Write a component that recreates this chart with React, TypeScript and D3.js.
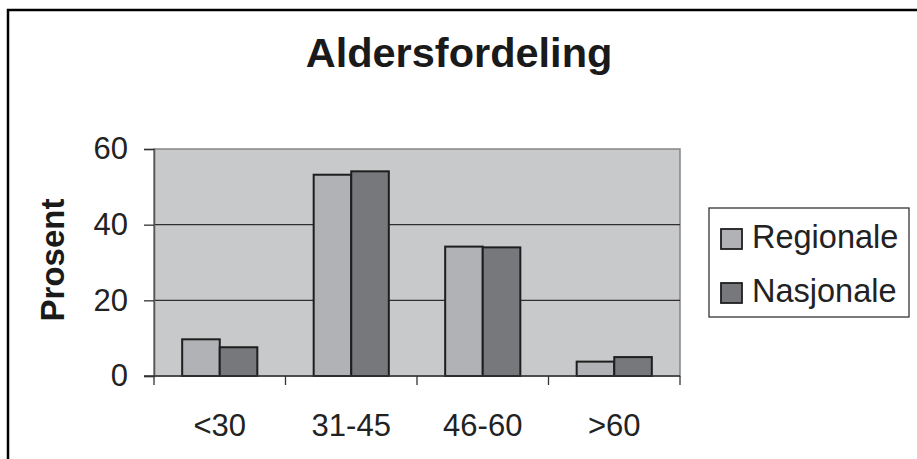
import * as d3 from "d3";
import { useEffect, useRef } from "react";

const categories = ["<30", "31-45", "46-60", ">60"];
const series = ["Regionale", "Nasjonale"];
const regionale = [9.7, 53.2, 34.2, 3.8];
const nasjonale = [7.6, 54.1, 34, 5];
const yTicks = [0, 20, 40, 60];

const colors = ["#b1b2b5", "#77787c"];
const font = "'Liberation Sans', Arial, sans-serif";

const App = () => {
  const svgRef = useRef(null);

  const width = 917;
  const height = 459;

  useEffect(() => {
    const svg = d3.select(svgRef.current);
    svg.selectAll("*").remove();

    const plot = { left: 154, right: 680, top: 149, bottom: 376 };

    // outer frame (left + top only visible)
    svg
      .append("path")
      .attr("d", `M8,${height} L8,10 L${width},10`)
      .attr("fill", "none")
      .attr("stroke", "#000")
      .attr("stroke-width", 2.5);

    svg
      .append("text")
      .attr("x", 459)
      .attr("y", 67)
      .attr("text-anchor", "middle")
      .attr("font-family", font)
      .attr("font-weight", "bold")
      .attr("font-size", 41.5)
      .attr("fill", "#1a1a1a")
      .text("Aldersfordeling");

    const x0 = d3
      .scaleBand()
      .domain(categories)
      .range([plot.left, plot.right])
      .paddingInner(0)
      .paddingOuter(0);

    const barW = x0.bandwidth() / 3.5;
    const x1 = d3
      .scaleBand()
      .domain(series)
      .range([0, barW * 2]);

    const y = d3.scaleLinear().domain([0, 60]).range([plot.bottom, plot.top]);

    // plot background
    svg
      .append("rect")
      .attr("x", plot.left)
      .attr("y", plot.top)
      .attr("width", plot.right - plot.left)
      .attr("height", plot.bottom - plot.top)
      .attr("fill", "#c8c9cb")
      .attr("stroke", "#858585")
      .attr("stroke-width", 1.5);

    // gridlines
    svg
      .append("g")
      .selectAll("line")
      .data(yTicks.filter((t) => t > 0 && t < 60))
      .join("line")
      .attr("x1", plot.left)
      .attr("x2", plot.right)
      .attr("y1", (d) => y(d))
      .attr("y2", (d) => y(d))
      .attr("stroke", "#2e2e2e")
      .attr("stroke-width", 1.3);

    // bars
    const data = [regionale, nasjonale];
    const groups = svg
      .append("g")
      .selectAll("g")
      .data(categories)
      .join("g")
      .attr(
        "transform",
        (d) => `translate(${(x0(d) as number) + (x0.bandwidth() - barW * 2) / 2},0)`
      );

    groups
      .selectAll("rect")
      .data((_, i) => series.map((s, j) => ({ s, v: data[j][i], j })))
      .join("rect")
      .attr("x", (d) => x1(d.s) as number)
      .attr("y", (d) => y(d.v))
      .attr("width", x1.bandwidth())
      .attr("height", (d) => y(0) - y(d.v))
      .attr("fill", (d) => colors[d.j])
      .attr("stroke", "#1e1e1e")
      .attr("stroke-width", 2);

    // y axis
    const yAxis = svg
      .append("g")
      .attr("transform", `translate(${plot.left},0)`)
      .call(d3.axisLeft(y).tickValues(yTicks).tickSize(10).tickPadding(16));
    yAxis.select(".domain").attr("stroke", "#555").attr("stroke-width", 1.5);
    yAxis.selectAll(".tick line").attr("stroke", "#333").attr("stroke-width", 1.3);
    yAxis
      .selectAll(".tick text")
      .attr("font-family", font)
      .attr("font-size", 31)
      .attr("fill", "#222");

    // x axis
    svg
      .append("line")
      .attr("x1", plot.left - 10)
      .attr("x2", plot.right)
      .attr("y1", plot.bottom)
      .attr("y2", plot.bottom)
      .attr("stroke", "#333")
      .attr("stroke-width", 1.5);

    const bounds = categories.map((c) => x0(c) as number).concat([plot.right]);
    svg
      .append("g")
      .selectAll("line")
      .data(bounds)
      .join("line")
      .attr("x1", (d) => d)
      .attr("x2", (d) => d)
      .attr("y1", plot.bottom)
      .attr("y2", plot.bottom + 9)
      .attr("stroke", "#333")
      .attr("stroke-width", 1.3);

    svg
      .append("g")
      .selectAll("text")
      .data(categories)
      .join("text")
      .attr("x", (d) => (x0(d) as number) + x0.bandwidth() / 2)
      .attr("y", 436)
      .attr("text-anchor", "middle")
      .attr("font-family", font)
      .attr("font-size", 31)
      .attr("fill", "#222")
      .text((d) => d);

    // y title
    svg
      .append("text")
      .attr("transform", "translate(64,260) rotate(-90)")
      .attr("text-anchor", "middle")
      .attr("font-family", font)
      .attr("font-weight", "bold")
      .attr("font-size", 33)
      .attr("fill", "#1a1a1a")
      .text("Prosent");

    // legend
    const legend = svg.append("g");
    legend
      .append("rect")
      .attr("x", 709)
      .attr("y", 208)
      .attr("width", 200)
      .attr("height", 109)
      .attr("fill", "#fff")
      .attr("stroke", "#333")
      .attr("stroke-width", 1.3);

    const items = legend
      .selectAll("g")
      .data(series)
      .join("g")
      .attr("transform", (_, i) => `translate(0,${i * 54})`);

    items
      .append("rect")
      .attr("x", 721)
      .attr("y", 229)
      .attr("width", 21)
      .attr("height", 20)
      .attr("fill", (_, i) => colors[i])
      .attr("stroke", "#1e1e1e")
      .attr("stroke-width", 1.8);

    items
      .append("text")
      .attr("x", 752)
      .attr("y", 248)
      .attr("font-family", font)
      .attr("font-size", 32.5)
      .attr("fill", "#222")
      .text((d) => d);
  }, []);

  return (
    <svg
      ref={svgRef}
      width={width}
      height={height}
      style={{ position: "absolute", left: 0, top: 0, background: "#fff" }}
    />
  );
};

export default App;
